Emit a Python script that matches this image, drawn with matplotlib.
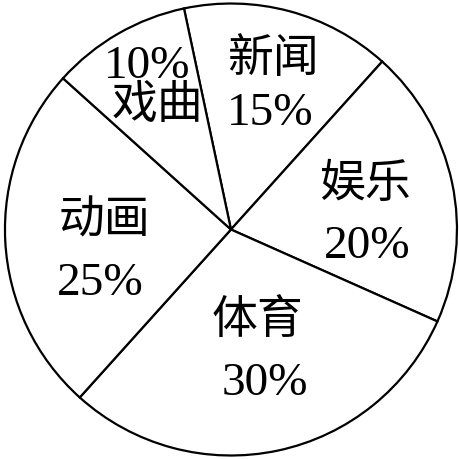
import matplotlib.pyplot as plt

plt.rcParams['font.family'] = ['Liberation Serif', 'Noto Sans CJK SC']

categories = ['新闻', '娱乐', '体育', '动画', '戏曲']
values = [15, 20, 30, 25, 10]
pct_labels = ['15%', '20%', '30%', '25%', '10%']

# label spots (data coords, pie radius = 1): name position, percent position
name_pos = [(0.186, 0.750), (0.593, 0.197), (0.119, -0.405), (-0.558, 0.037), (-0.327, 0.546)]
pct_pos = [(0.173, 0.518), (0.602, -0.070), (0.150, -0.677), (-0.580, -0.234), (-0.372, 0.726)]

fig = plt.figure(figsize=(4.59, 4.60), dpi=100)
ax = fig.add_axes([0, 0, 1, 1])

ax.pie(values, startangle=102, counterclock=False, radius=1,
       colors=['white'] * len(values),
       wedgeprops=dict(edgecolor='black', linewidth=1.6))

for name, pct, npos, ppos in zip(categories, pct_labels, name_pos, pct_pos):
    ax.text(npos[0], npos[1], name, fontsize=33, ha='center', va='center')
    ax.text(ppos[0], ppos[1], pct, fontsize=34, ha='center', va='center')

ax.set_aspect('auto')
ax.set_xlim(-1.022, 1.009)
ax.set_ylim(-1.0155, 1.02)
ax.axis('off')

fig.savefig('out.png', dpi=100, facecolor='white')
